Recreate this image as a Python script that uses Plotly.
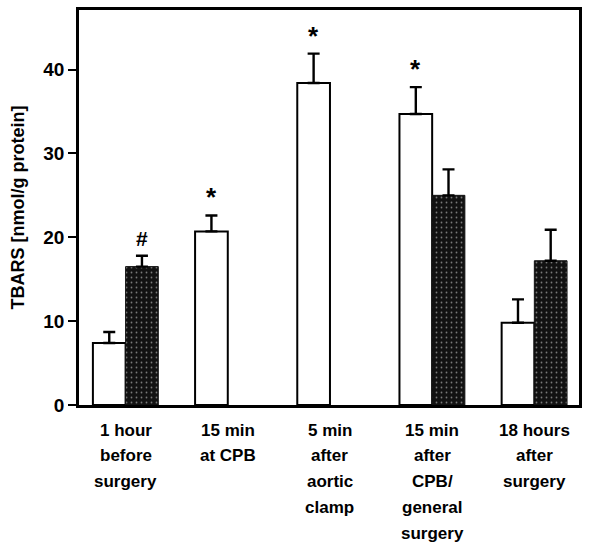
import plotly.graph_objects as go

# Time points (multi-line category labels)
timepoints = [
    ["1 hour", "before", "surgery"],
    ["15 min", "at CPB"],
    ["5 min", "after", "aortic", "clamp"],
    ["15 min", "after", "CPB/", "general", "surgery"],
    ["18 hours", "after", "surgery"],
]
positions = [0, 1, 2, 3, 4]

# TBARS means and SEM (upper bar only)
cpb_mean = [7.4, 20.7, 38.4, 34.7, 9.8]
cpb_sem = [1.3, 1.9, 3.5, 3.2, 2.8]
general_mean = [16.5, None, None, 25.0, 17.2]
general_sem = [1.3, None, None, 3.1, 3.7]

# Significance markers: (group, series, symbol)
markers = [(0, 1, "#"), (1, 0, "*"), (2, 0, "*"), (3, 0, "*")]

FONT = "Liberation Sans, Arial, Helvetica, sans-serif"
BAR_W = 0.32

fig = go.Figure()
fig.add_trace(go.Bar(
    x=positions, y=cpb_mean,
    marker=dict(color="white", line=dict(color="black", width=2)),
    error_y=dict(type="data", array=cpb_sem, arrayminus=[0] * 5,
                 symmetric=False, color="black", thickness=2.4, width=6),
    showlegend=False,
))
fig.add_trace(go.Bar(
    x=positions, y=general_mean,
    marker=dict(color="#121212", line=dict(color="#121212", width=1),
                pattern=dict(shape=".", fgcolor="#7a7a7a", bgcolor="#121212",
                             size=5, solidity=0.1, fillmode="replace")),
    error_y=dict(type="data", array=[e if e is not None else 0 for e in general_sem],
                 arrayminus=[0] * 5, symmetric=False, color="black",
                 thickness=2.4, width=6),
    showlegend=False,
))

annotations = []
series = [(cpb_mean, cpb_sem), (general_mean, general_sem)]
for g, s, sym in markers:
    mean, sem = series[s]
    top = mean[g] + sem[g]
    annotations.append(dict(
        x=positions[g] + (BAR_W / 2 if s == 1 else -BAR_W / 2), y=top,
        xref="x", yref="y", text="<b>%s</b>" % sym, showarrow=False,
        yanchor="bottom", yshift=4 if sym == "#" else 1,
        font=dict(family=FONT, size=26 if sym == "*" else 21, color="black"),
    ))

# Category labels, one line per annotation for wide line spacing
for pos, lines in zip(positions, timepoints):
    for k, line in enumerate(lines):
        annotations.append(dict(
            x=pos, y=0, xref="x", yref="paper", text="<b>%s</b>" % line,
            showarrow=False, yanchor="middle", yshift=-25 - 25.8 * k,
            font=dict(family=FONT, size=17, color="black"),
        ))

fig.update_layout(
    width=589, height=544,
    margin=dict(l=79, r=7, t=8, b=139),
    paper_bgcolor="white", plot_bgcolor="white",
    barmode="group", bargap=1 - 2 * BAR_W, bargroupgap=0,
    annotations=annotations,
    font=dict(family=FONT, color="black"),
)
fig.update_xaxes(
    range=[-0.456, 4.437], showticklabels=False, ticks="",
    showline=True, linecolor="black", linewidth=2.5, mirror=True,
    showgrid=False, zeroline=False,
)
fig.update_yaxes(
    range=[0, 47.1], tickvals=[0, 10, 20, 30, 40],
    ticktext=["<b>%d</b>" % v for v in [0, 10, 20, 30, 40]],
    ticks="outside", ticklen=8, tickwidth=2, tickcolor="black",
    tickfont=dict(family=FONT, size=19, color="black"),
    showline=True, linecolor="black", linewidth=2.5, mirror=True,
    showgrid=False, zeroline=False,
    title=dict(text="<b>TBARS [nmol/g protein]</b>", standoff=15,
               font=dict(family=FONT, size=18, color="black")),
)

fig.write_html("out.html")
